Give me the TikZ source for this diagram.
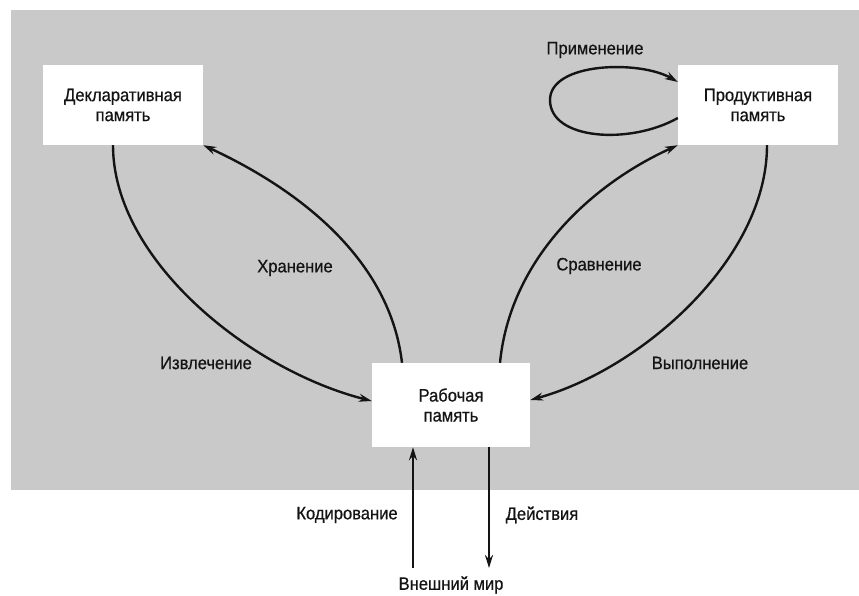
\documentclass[tikz,border=0pt]{standalone}
\usepackage{fontspec}
\setmainfont{Liberation Sans}[FakeStretch=0.92,FakeBold=0.6]
\usetikzlibrary{arrows.meta}
\begin{document}
\begin{tikzpicture}[x=1pt,y=-1pt,
  every node/.style={font=\fontsize{18}{20}\selectfont, text=black!92},
  membox/.style={fill=white, draw=none, align=center, inner sep=0pt},
  lbl/.style={inner sep=0pt},
  conn/.style={line width=2.4pt, draw=black!92, -{Stealth[length=13pt,width=8pt]}}]
\useasboundingbox (0,0) rectangle (859,596);
\fill[black!21] (11,10) rectangle (859,490);
\node[membox, minimum width=160pt, minimum height=80pt] (decl) at (123,105) {Декларативная\\память};
\node[membox, minimum width=160pt, minimum height=80pt] (prod) at (758,105) {Продуктивная\\память};
\node[membox, minimum width=158pt, minimum height=84pt] (work) at (451,405) {Рабочая\\память};
\node[lbl] (world) at (451,585) {Внешний мир};
\coordinate (encA) at (413,568);
\coordinate (actB) at (489,568);
% connectors
\draw[conn] (decl.south -| 113,0) .. controls (113,260) and (250,370) .. (work.west |- 0,401);
\draw[conn] (work.north -| 402,0) .. controls (390,260) and (300,190) .. (decl.south east);
\draw[conn] (work.north -| 500,0) .. controls (510,260) and (590,185) .. (prod.south west);
\draw[conn] (prod.south -| 767,0) .. controls (767,260) and (640,370) .. (work.east |- 0,400);
\draw[conn] (prod.west |- 0,118) .. controls (630,145) and (550,140) .. (550,100) .. controls (550,62) and (640,60) .. (prod.west |- 0,82);
\draw[conn] (encA) -- (work.south -| encA);
\draw[conn] (work.south -| actB) -- (actB);
% labels
\node[lbl] (lapp) at (595,50) {Применение};
\node[lbl] (lstore) at (295,268) {Хранение};
\node[lbl] (lcmp) at (599,266) {Сравнение};
\node[lbl] (lret) at (206,363) {Извлечение};
\node[lbl] (lexe) at (700,363) {Выполнение};
\node[lbl] (lenc) at (347,515) {Кодирование};
\node[lbl] (lact) at (542,515) {Действия};
\end{tikzpicture}
\end{document}
